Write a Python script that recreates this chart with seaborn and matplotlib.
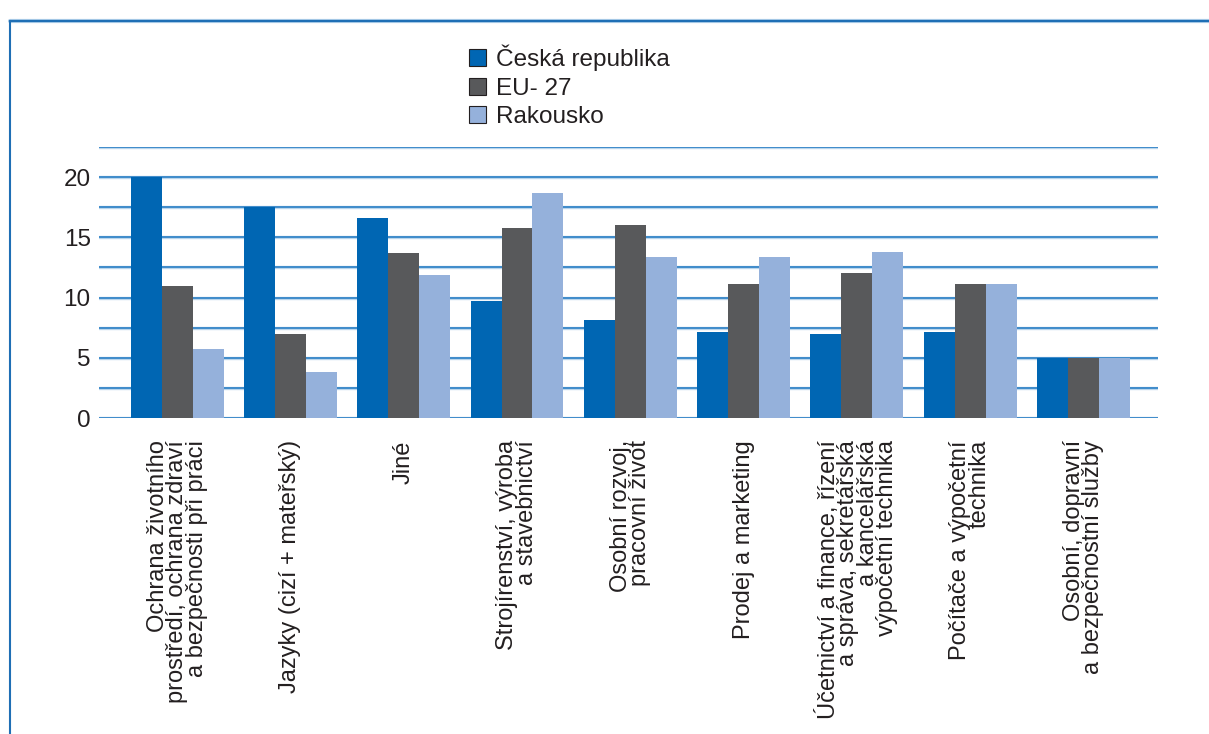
import matplotlib
matplotlib.use("Agg")
import matplotlib.pyplot as plt
from matplotlib.lines import Line2D
from matplotlib.patches import Patch
import seaborn as sns
import pandas as pd

# ================= DATA =================
categories = [
    "Ochrana životního\nprostředí, ochrana zdraví\na bezpečnosti při práci",
    "Jazyky (cizí + mateřský)",
    "Jiné",
    "Strojírenství, výroba\na stavebnictví",
    "Osobní rozvoj,\npracovní život",
    "Prodej a marketing",
    "Účetnictví a finance, řízení\na správa, sekretářská\na kancelářská\nvýpočetní technika",
    "Počítače a výpočetní\ntechnika",
    "Osobní, dopravní\na bezpečnostní služby",
]
series = ["Česká republika", "EU- 27", "Rakousko"]
cz_values = [20.0, 17.5, 16.6, 9.7, 8.1, 7.1, 7.0, 7.1, 5.0]
eu_values = [11.0, 7.0, 13.7, 15.8, 16.0, 11.1, 12.0, 11.1, 5.0]
at_values = [5.7, 3.8, 11.9, 18.7, 13.4, 13.4, 13.8, 11.1, 5.0]
colors = ["#0066b3", "#58595b", "#95b1db"]

rows = []
for name, vals in zip(series, [cz_values, eu_values, at_values]):
    for cat, v in zip(categories, vals):
        rows.append({"cat": cat, "series": name, "value": v})
df = pd.DataFrame(rows)

# ================= STYLE =================
sns.set_style("white")
plt.rcParams["font.family"] = ["Liberation Sans", "DejaVu Sans"]

fig = plt.figure(figsize=(12.09, 7.34), dpi=100)
ax = fig.add_axes([0.0819, 0.4305, 0.876, 0.3692])

sns.barplot(data=df, x="cat", y="value", hue="series", palette=colors,
            width=0.82, saturation=1, ax=ax, legend=False, zorder=3,
            linewidth=0, edgecolor="none")

# ================= AXES =================
ax.set_ylim(0, 22.5)
ax.set_xlim(-0.69, 8.66)
ax.set_yticks([0, 5, 10, 15, 20])
for y in [0, 2.5, 5, 7.5, 10, 12.5, 15, 17.5, 20, 22.5]:
    ax.axhline(y, color="#b9d5ec", lw=2.4, zorder=1)
    ax.axhline(y, color="#1f78c1", lw=1.1, zorder=2)
for s in ax.spines.values():
    s.set_visible(False)
ax.set_xlabel("")
ax.set_ylabel("")
ax.tick_params(axis="y", length=0, pad=6, labelsize=17.5, labelcolor="#231f20")
ax.tick_params(axis="x", length=0, pad=16)
ax.set_xticks(range(len(categories)))
ax.set_xticklabels(categories, rotation=90, ha="center", va="top",
                   multialignment="right", fontsize=17, color="#231f20",
                   linespacing=0.85)

# ================= LEGEND =================
handles = [Patch(facecolor=c, edgecolor="#231f20", lw=0.8) for c in colors]
fig.legend(handles, series, loc="upper left", bbox_to_anchor=(0.380, 0.952),
           frameon=False, fontsize=17.5, handlelength=0.7, handleheight=0.7,
           handletextpad=0.4, labelspacing=0.25, borderaxespad=0,
           labelcolor="#231f20")

# ================= FRAME =================
fig.add_artist(Line2D([0.0085, 1.0], [0.971, 0.971], color="#a9cbe8", lw=3,
                      transform=fig.transFigure))
fig.add_artist(Line2D([0.0085, 1.0], [0.972, 0.972], color="#1f6fb5", lw=1.5,
                      transform=fig.transFigure))
fig.add_artist(Line2D([0.0085, 0.0085], [0.0, 0.972], color="#1f6fb5", lw=1.5,
                      transform=fig.transFigure))

fig.savefig("out.png", dpi=100, facecolor="white")
